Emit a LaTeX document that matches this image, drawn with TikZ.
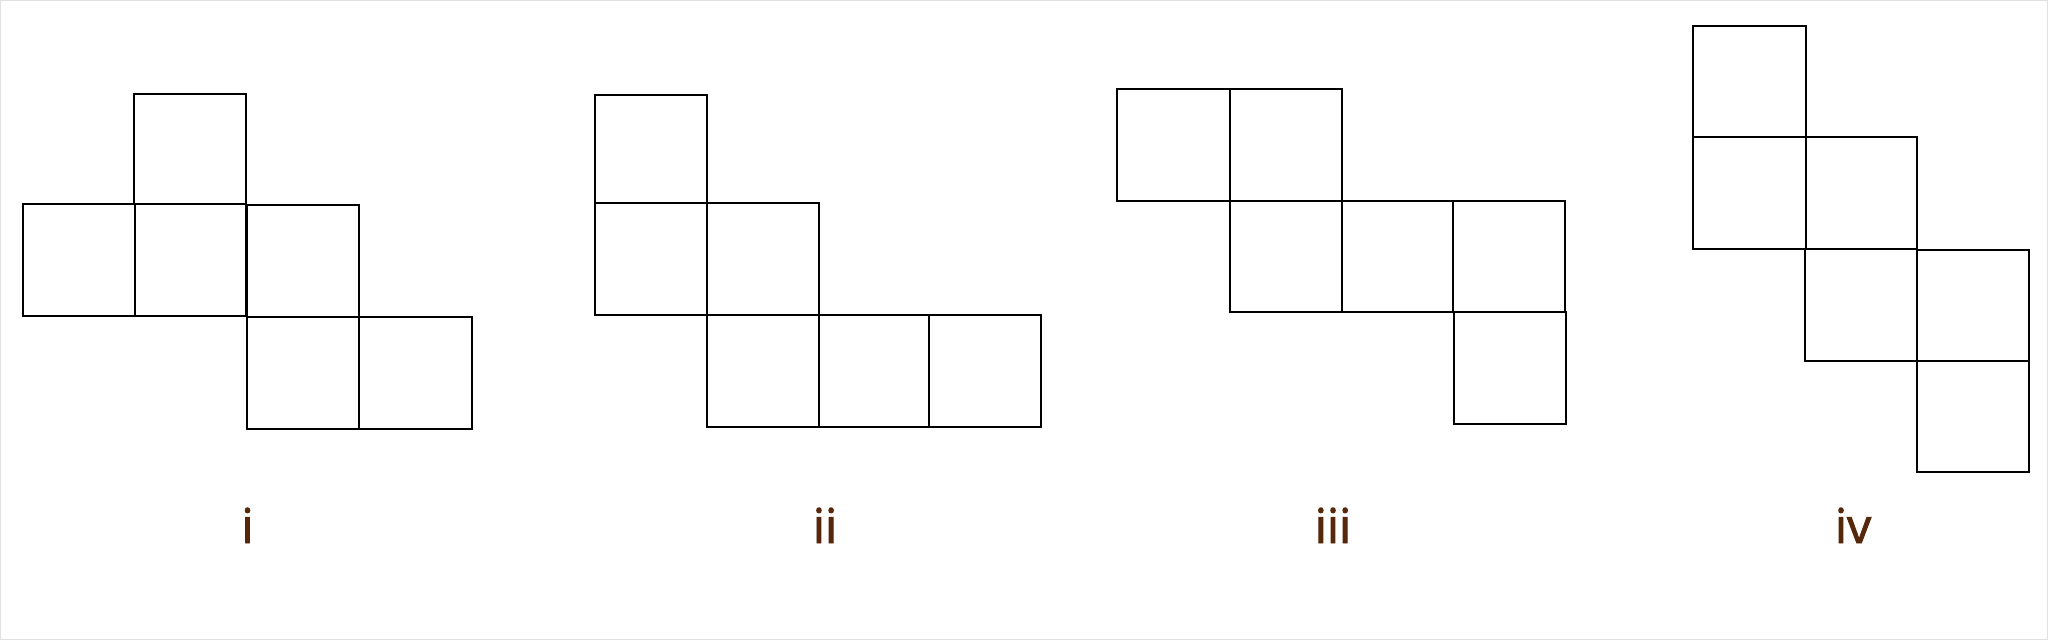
\documentclass[tikz,border=0pt]{standalone}
\usepackage{fontspec}
\setmainfont{Open Sans}
\newfontfamily\labfont[FakeBold=2]{Open Sans}
\definecolor{lbl}{RGB}{85,40,12}
\definecolor{frame}{RGB}{225,225,225}
\tikzset{
  sq/.style={draw=black, line width=2pt, fill=none},
  lab/.style={text=lbl, anchor=base, inner sep=0pt, font=\labfont\fontsize{48}{58}\selectfont},
}
\begin{document}
\begin{tikzpicture}[x=1pt,y=-1pt]
\useasboundingbox (0,0) rectangle (2048,640);
\draw[frame, line width=1pt] (0.5,0.5) rectangle (2047.5,639.5);
% figure i
\draw[sq] (133.5,94) rectangle (246,204);
\draw[sq] (22.5,204) rectangle (134.5,316);
\draw[sq] (134.5,204) rectangle (246,316);
\draw[sq] (246.5,204.7) rectangle (358.7,316.7);
\draw[sq] (246.5,316.7) rectangle (358.7,428.7);
\draw[sq] (358.7,316.7) rectangle (471.5,428.7);
\node[lab] (li) at (247.5,543) {i};
% figure ii
\draw[sq] (595,94.5) rectangle (707,203);
\draw[sq] (595,203) rectangle (707,315);
\draw[sq] (707,203) rectangle (819,315);
\draw[sq] (707,315) rectangle (819,426.7);
\draw[sq] (819,315) rectangle (929,426.7);
\draw[sq] (929,315) rectangle (1040.7,426.7);
\node[lab] (lii) at (825,543) {ii};
% figure iii
\draw[sq] (1117,89) rectangle (1230,201);
\draw[sq] (1230,89) rectangle (1342,201);
\draw[sq] (1230,201) rectangle (1342,312);
\draw[sq] (1342,201) rectangle (1453,312);
\draw[sq] (1453,201) rectangle (1565,312);
\draw[sq] (1454,312) rectangle (1566,424);
\node[lab] (liii) at (1333,543) {iii};
% figure iv
\draw[sq] (1693,26) rectangle (1806,137);
\draw[sq] (1693,137) rectangle (1806,249);
\draw[sq] (1806,137) rectangle (1917,249);
\draw[sq] (1805,249) rectangle (1917,361);
\draw[sq] (1917,250) rectangle (2029,361);
\draw[sq] (1917,361) rectangle (2029,472);
\node[lab] (liv) at (1853,543) {iv};
\end{tikzpicture}
\end{document}
